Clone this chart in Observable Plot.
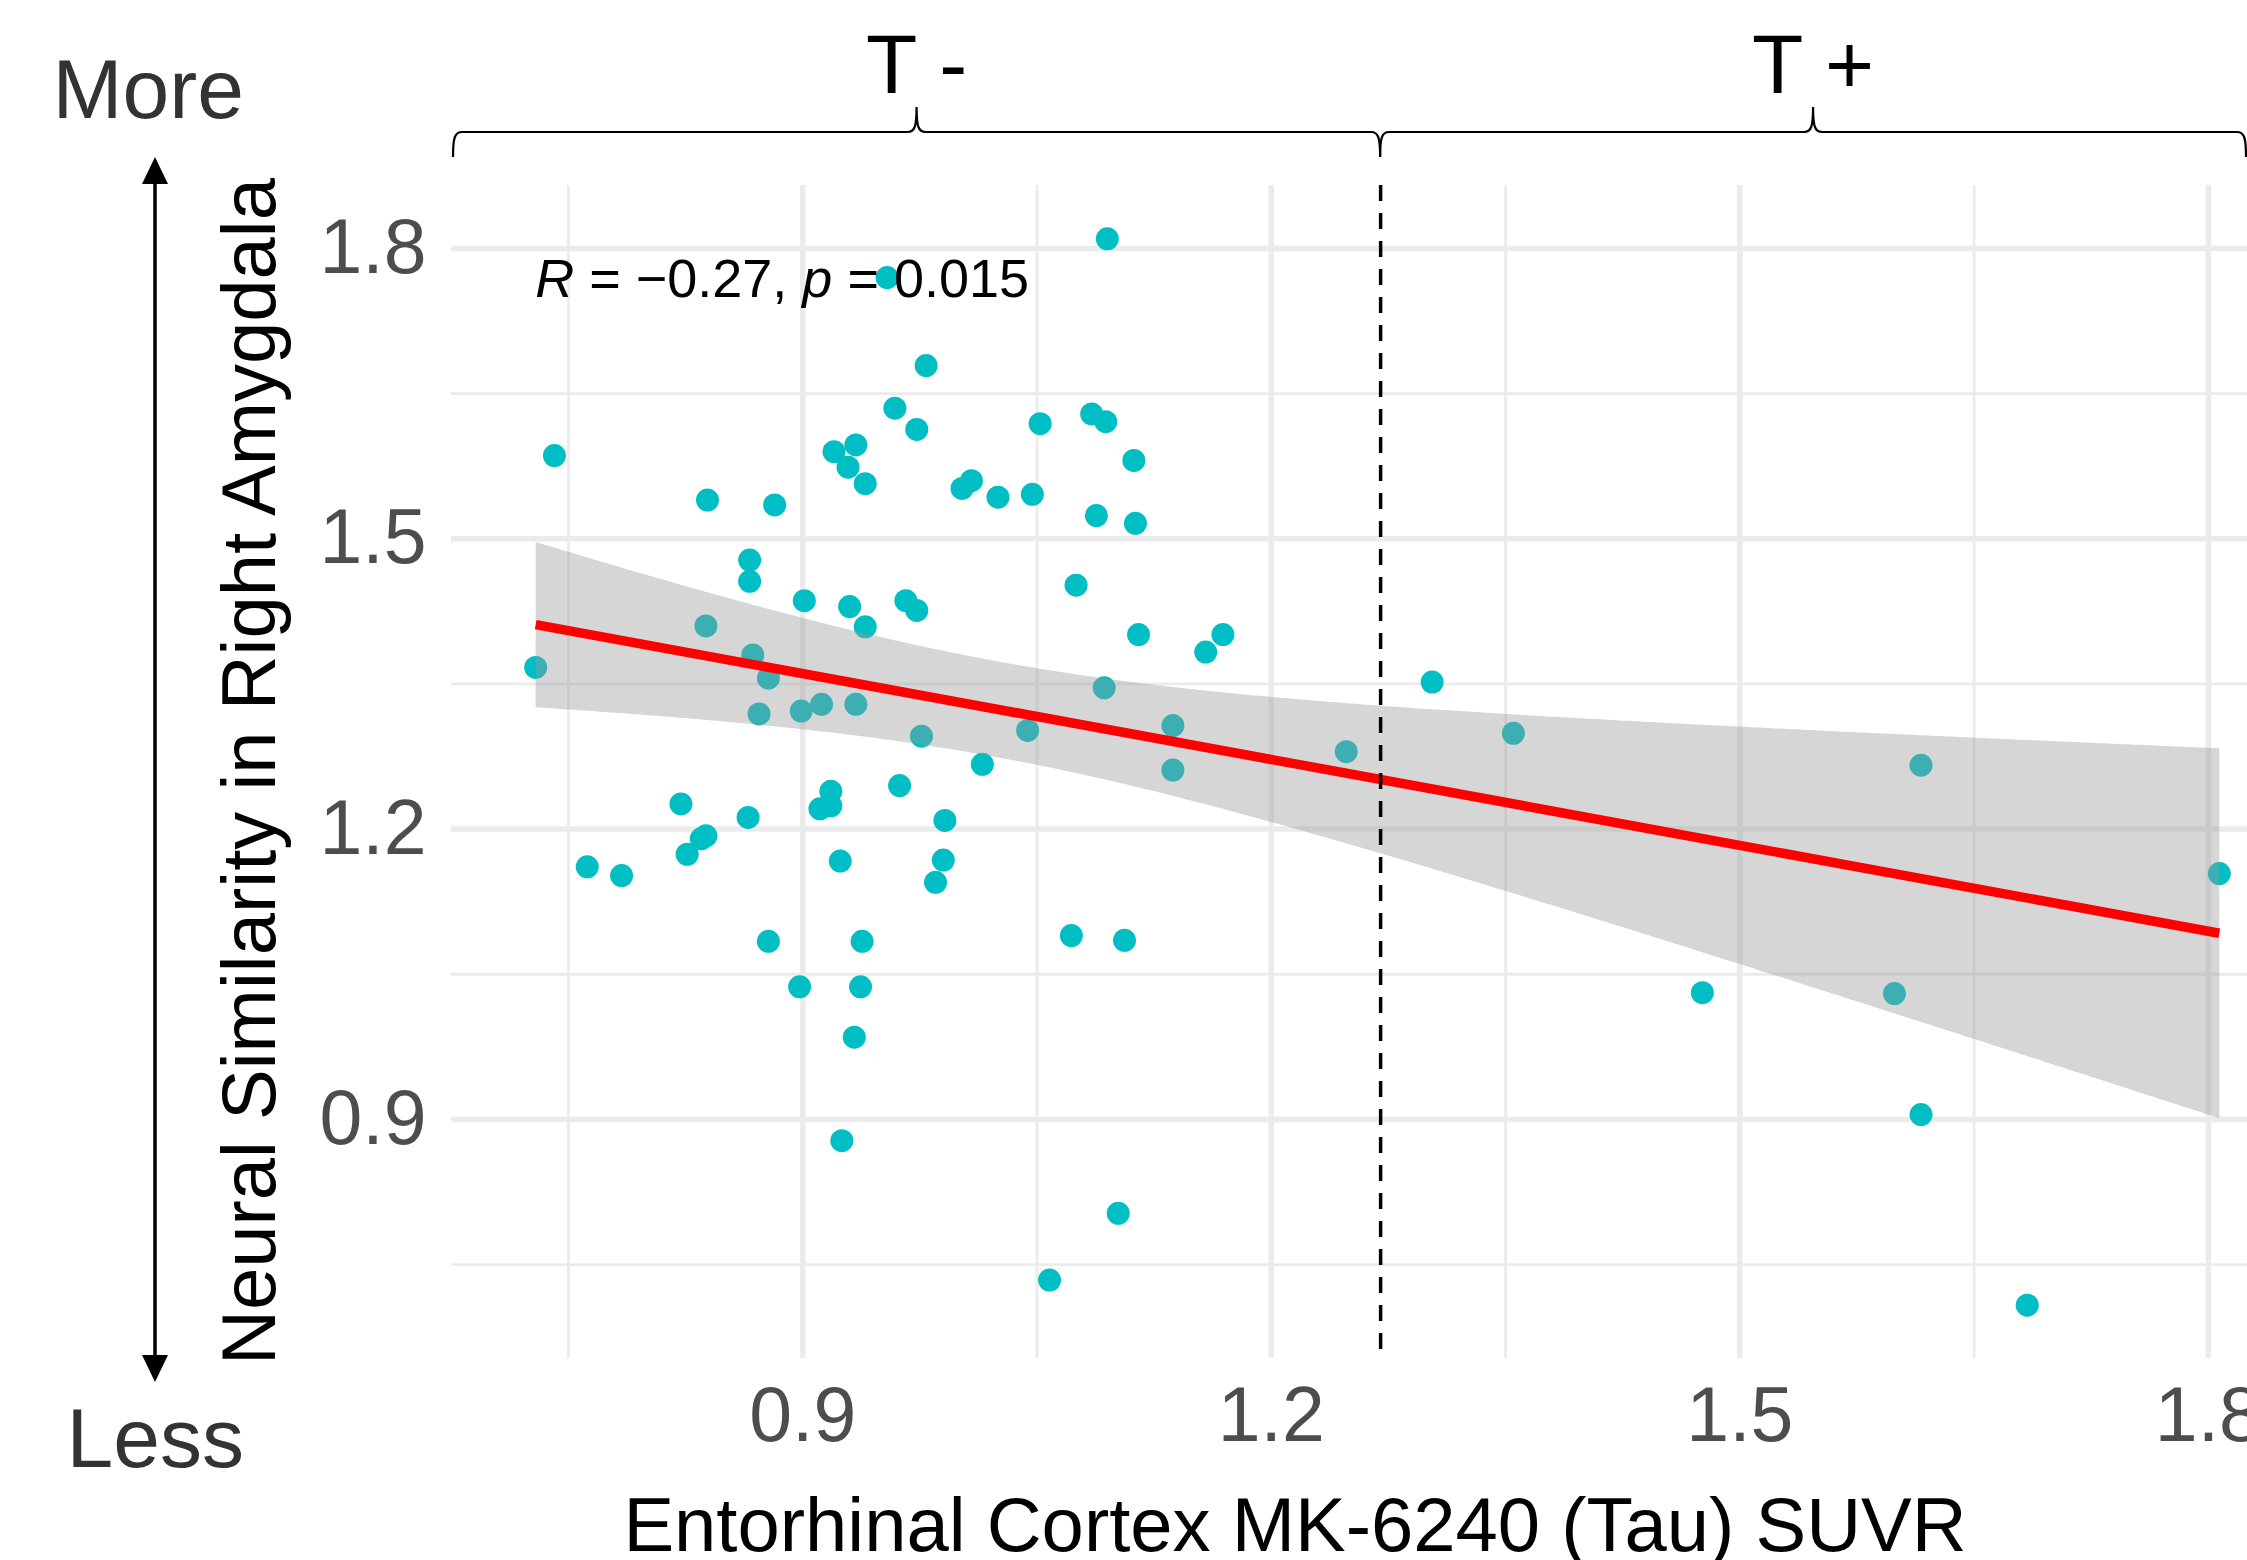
<!DOCTYPE html>
<html>
<head>
<meta charset="utf-8">
<script src="https://cdn.jsdelivr.net/npm/d3@7"></script>
<script src="https://cdn.jsdelivr.net/npm/@observablehq/plot@0.6"></script>
<style>
  html, body { margin: 0; padding: 0; background: #ffffff; overflow: hidden; }
  #chart { width: 2247px; height: 1560px; overflow: hidden; }
  #chart svg { display: block; max-width: none !important; width: 2310px; height: 1560px; }
</style>
</head>
<body>
<div id="chart"></div>
<script>
// ---------------- data ----------------
const tauSUVR = [
  0.954, 0.979, 0.959, 0.973, 0.741, 0.920, 0.934, 0.929, 0.940, 0.839, 0.882, 0.866, 0.866,
  1.095, 1.052, 1.085, 1.094, 1.112, 1.002, 1.008, 1.025, 1.047, 1.088, 1.113, 1.075,
  0.729, 0.838, 0.868, 0.878, 0.872, 0.899, 0.912, 0.934, 0.976, 0.901, 0.930, 0.940, 0.966, 0.973,
  0.962, 0.918, 0.911, 0.918, 0.991, 0.990, 0.985, 0.822, 0.865, 0.835, 0.838, 0.826, 0.762, 0.784,
  0.924, 0.878, 0.938, 0.898, 0.937,
  1.115, 1.169, 1.158, 1.093, 1.137, 1.137, 1.248, 1.044, 1.015, 1.072, 1.106,
  0.933, 0.925, 1.102, 1.058,
  1.303, 1.355, 1.616, 1.807, 1.476, 1.599, 1.616, 1.684
];
const similarity = [
  1.770, 1.679, 1.635, 1.613, 1.586, 1.590, 1.597, 1.574, 1.557, 1.540, 1.535, 1.478, 1.456,
  1.810, 1.619, 1.629, 1.621, 1.581, 1.552, 1.560, 1.543, 1.546, 1.524, 1.516, 1.452,
  1.367, 1.410, 1.380, 1.356, 1.319, 1.322, 1.329, 1.329, 1.296, 1.436, 1.430, 1.409, 1.436, 1.426,
  1.245, 1.239, 1.221, 1.224, 1.209, 1.168, 1.145, 1.226, 1.212, 1.190, 1.193, 1.174, 1.161, 1.152,
  1.167, 1.084, 1.084, 1.037, 1.037,
  1.401, 1.401, 1.383, 1.346, 1.307, 1.261, 1.280, 1.302, 1.267, 1.090, 1.085,
  0.985, 0.878, 0.803, 0.734,
  1.352, 1.299, 1.266, 1.154, 1.031, 1.030, 0.905, 0.708
];
const xMajorTicks = [0.9, 1.2, 1.5, 1.8];
const xMinorTicks = [0.75, 1.05, 1.35, 1.65];
const yMajorTicks = [0.9, 1.2, 1.5, 1.8];
const yMinorTicks = [0.75, 1.05, 1.35, 1.65];
const tauCutoff = 1.27;
const groupLabels = ["T -", "T +"];
const corR = "\u22120.27";
const corP = "0.015";
const xTitle = "Entorhinal Cortex MK-6240 (Tau) SUVR";
const yTitle = "Neural Similarity in Right Amygdala";
const moreLess = ["More", "Less"];

// ---------------- build ----------------
const points = tauSUVR.map((x, i) => ({x, y: similarity[i]}));
function expand([a, b], f = 0.05) { const r = b - a; return [a - f * r, b + f * r]; }
const xDomain = expand(d3.extent(tauSUVR));
const yDomain = expand(d3.extent(similarity));

const FONT = "'Liberation Sans', Arial, Helvetica, sans-serif";
const W = 2310, H = 1560, VISIBLE_W = 2247;
const mL = 451, mR = 7, mT = 185, mB = 202;

const chart = Plot.plot({
  width: W, height: H,
  marginLeft: mL, marginRight: mR, marginTop: mT, marginBottom: mB,
  style: {fontFamily: FONT, background: "white", overflow: "visible", maxWidth: "none"},
  x: {domain: xDomain},
  y: {domain: yDomain},
  marks: [
    Plot.ruleX(xMinorTicks, {stroke: "#ebebeb", strokeWidth: 2.8}),
    Plot.ruleY(yMinorTicks, {stroke: "#ebebeb", strokeWidth: 2.8}),
    Plot.ruleX(xMajorTicks, {stroke: "#ebebeb", strokeWidth: 5.5}),
    Plot.ruleY(yMajorTicks, {stroke: "#ebebeb", strokeWidth: 5.5}),
    Plot.dot(points, {x: "x", y: "y", r: 11.5, fill: "#00BFC4", stroke: "none"}),
    Plot.linearRegressionY(points, {
      x: "x", y: "y", ci: 0.95,
      stroke: "#ff0000", strokeWidth: 9.5, strokeLinecap: "butt",
      fill: "#999999", fillOpacity: 0.4
    }),
    Plot.ruleX([tauCutoff], {stroke: "black", strokeWidth: 3.5, strokeDasharray: "16,12"}),
    Plot.axisX({ticks: xMajorTicks, tickSize: 0, tickPadding: 28, fontSize: 77,
      color: "#4d4d4d", label: null, tickFormat: d => d.toFixed(1)}),
    Plot.axisY({ticks: yMajorTicks, tickSize: 0, tickPadding: 25, fontSize: 77,
      color: "#4d4d4d", label: null, tickFormat: d => d.toFixed(1)})
  ]
});

document.getElementById("chart").appendChild(chart);

// ---------------- annotations ----------------
const svg = d3.select(chart);
const xsc = chart.scale("x"), ysc = chart.scale("y");
const lin = (s) => (v) => s.range[0] + (v - s.domain[0]) / (s.domain[1] - s.domain[0]) * (s.range[1] - s.range[0]);
const sx = lin(xsc), sy = lin(ysc);
const g = svg.append("g").attr("font-family", FONT).attr("text-anchor", "start");

// R / p label at data min x, max y
const rText = g.append("text")
  .attr("x", sx(d3.min(tauSUVR)))
  .attr("y", sy(d3.max(similarity)) + 59)
  .attr("text-anchor", "start")
  .attr("font-size", 54)
  .attr("fill", "black");
rText.append("tspan").attr("font-style", "italic").text("R");
rText.append("tspan").text(" = " + corR + ", ");
rText.append("tspan").attr("font-style", "italic").text("p");
rText.append("tspan").text(" = " + corP);

// Curly braces for T- / T+
function bracePath(x0, x1, yb, depth) {
  const xm = (x0 + x1) / 2, r = 9;
  return `M${x0},${yb + depth} C${x0},${yb + 5} ${x0 + 2},${yb} ${x0 + r},${yb}` +
    ` L${xm - r},${yb} C${xm - 2},${yb} ${xm},${yb - 5} ${xm},${yb - depth}` +
    ` C${xm},${yb - 5} ${xm + 2},${yb} ${xm + r},${yb}` +
    ` L${x1 - r},${yb} C${x1 - 2},${yb} ${x1},${yb + 5} ${x1},${yb + depth}`;
}
const braceY = 132, braceDepth = 25;
const braces = [
  [sx(xDomain[0]) + 2, sx(tauCutoff)],
  [sx(tauCutoff), VISIBLE_W - 1]
];
braces.forEach(([a, b], i) => {
  g.append("path").attr("d", bracePath(a, b, braceY, braceDepth))
    .attr("fill", "none").attr("stroke", "black").attr("stroke-width", 2.2);
  g.append("text").attr("x", (a + b) / 2).attr("y", 93)
    .attr("text-anchor", "middle").attr("font-size", 84).attr("fill", "black")
    .text(groupLabels[i]);
});

// More / Less with double arrow
g.append("text").attr("x", 244).attr("y", 118).attr("text-anchor", "end")
  .attr("font-size", 84).attr("fill", "#333333").text(moreLess[0]);
g.append("text").attr("x", 244).attr("y", 1467).attr("text-anchor", "end")
  .attr("font-size", 84).attr("fill", "#333333").text(moreLess[1]);
const ax = 155, aTop = 157, aBot = 1382, aw = 13, ah = 27;
g.append("line").attr("x1", ax).attr("x2", ax).attr("y1", aTop + 10).attr("y2", aBot - 10)
  .attr("stroke", "black").attr("stroke-width", 3.5);
g.append("path").attr("d", `M${ax},${aTop} L${ax - aw},${aTop + ah} L${ax + aw},${aTop + ah} Z`).attr("fill", "black");
g.append("path").attr("d", `M${ax},${aBot} L${ax - aw},${aBot - ah} L${ax + aw},${aBot - ah} Z`).attr("fill", "black");

// Axis titles
g.append("text").attr("x", 1295).attr("y", 1551).attr("text-anchor", "middle")
  .attr("font-size", 76).attr("fill", "black").text(xTitle);
g.append("text").attr("transform", `translate(275,${(mT + (H - mB)) / 2}) rotate(-90)`)
  .attr("text-anchor", "middle").attr("font-size", 76).attr("fill", "black").text(yTitle);
</script>
</body>
</html>
